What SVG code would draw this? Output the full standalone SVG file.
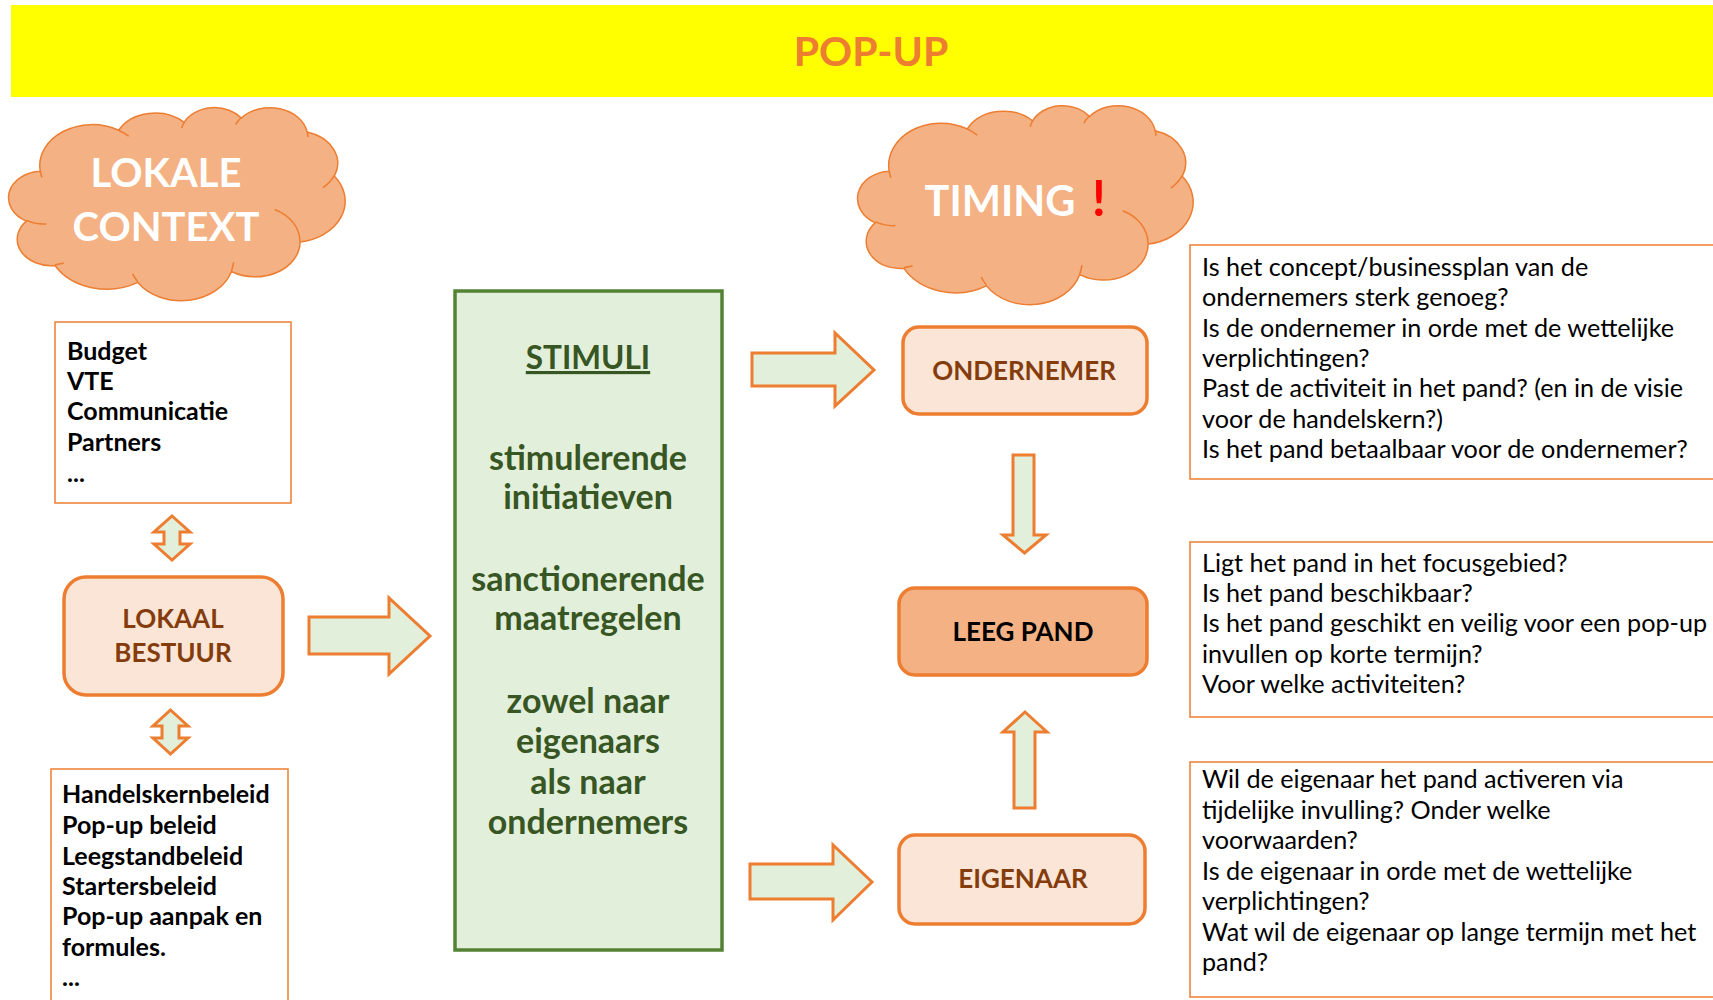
<svg xmlns="http://www.w3.org/2000/svg" width="1713" height="1000" viewBox="0 0 1713 1000">
<defs>
<style>
.cloud{fill:#F4B183;stroke:#ED7D31;stroke-width:1.5}
.cin{fill:none;stroke:#ED7D31;stroke-width:1.5}
.blk{fill:#E2EFDA;stroke:#ED7D31;stroke-width:3}
.rbox{fill:#FBE5D6;stroke:#ED7D31;stroke-width:3.5}
.tbox{fill:#FFFFFF;stroke:#ED7D31;stroke-width:1.5}
.lbl{font-family:Lato,"Open Sans","Liberation Sans",sans-serif;font-weight:700;font-size:26px;fill:#843C0C;text-anchor:middle}
.cl{font-family:Lato,"Open Sans","Liberation Sans",sans-serif;font-weight:700;font-size:40px;fill:#FFFFFF;text-anchor:middle}
.lst{font-family:Lato,"Open Sans","Liberation Sans",sans-serif;font-weight:700;font-size:25px;fill:#000000}
.q{font-family:Lato,"Open Sans","Liberation Sans",sans-serif;font-size:25.2px;fill:#000000}
.st{font-family:Lato,"Open Sans","Liberation Sans",sans-serif;font-weight:700;font-size:34px;fill:#375623;text-anchor:middle}
</style>
<path id="cloudOut" vector-effect="non-scaling-stroke" d="M3900,14370 A6753,9190 0 0 1 14005,5202 A5333,7267 0 0 1 22456,3433 A4365,5945 0 0 1 29833,2480 A4857,6595 0 0 1 38317,5576 A5333,7273 0 0 1 41818,15460 A6775,9220 0 0 1 37404,30204 A5785,7867 0 0 1 28556,36815 A6752,9215 0 0 1 16480,39266 A7720,10543 0 0 1 5804,35472 A4360,5918 0 0 1 2112,25551 A4345,5945 0 0 1 3900,14370 Z"/>
<path id="cloudIn" vector-effect="non-scaling-stroke" d="M4693,26177 A4345,5945 0 0 1 2160,25380 M6928,34899 A4360,5918 0 0 1 5820,35281 M16478,39090 A6752,9215 0 0 1 15810,37350 M28827,34751 A6752,9215 0 0 1 28561,36660 M34129,22954 A5785,7867 0 0 1 37380,30090 M41798,15354 A5333,7273 0 0 1 40350,18030 M38324,5426 A4857,6595 0 0 1 38401,6690 M29078,3952 A4857,6595 0 0 1 29820,2340 M22141,4720 A4365,5945 0 0 1 22500,3331 M14000,5192 A6753,9190 0 0 1 15300,6540 M4127,15789 A6753,9190 0 0 1 3900,14370"/>
</defs>
<rect x="0" y="0" width="1713" height="1000" fill="#FFFFFF"/>

<g id="title">
<rect x="11" y="5" width="1702" height="92" fill="#FFFF00"/>
<text x="871" y="66" font-family="Lato,'Open Sans','Liberation Sans',sans-serif" font-weight="700" font-size="41" fill="#ED7D31" text-anchor="middle">POP-UP</text>
</g>

<g id="cloud-lokale-context">
<use href="#cloudOut" class="cloud" transform="translate(10,107) scale(0.007755,0.004468)"/>
<use href="#cloudIn" class="cin" transform="translate(10,107) scale(0.007755,0.004468)"/>
<text class="cl" x="166" y="187">LOKALE</text>
<text class="cl" x="166" y="241">CONTEXT</text>
</g>

<g id="cloud-timing">
<use href="#cloudOut" class="cloud" transform="translate(859,105) scale(0.007731,0.004606)"/>
<use href="#cloudIn" class="cin" transform="translate(859,105) scale(0.007731,0.004606)"/>
<text class="cl" x="1000" y="216" style="font-size:41.5px">TIMING</text>
<text x="1099" y="216" font-family="Lato,'Open Sans','Liberation Sans',sans-serif" font-weight="700" font-size="49" fill="#FF0000" text-anchor="middle">!</text>
</g>

<g id="box-middelen">
<rect class="tbox" x="55" y="322" width="236" height="181"/>
<text class="lst" x="67" y="360">Budget</text>
<text class="lst" x="67" y="390">VTE</text>
<text class="lst" x="67" y="420">Communicatie</text>
<text class="lst" x="67" y="451">Partners</text>
<text class="lst" x="67" y="482">...</text>
</g>

<g id="lokaal-bestuur">
<rect class="rbox" x="64" y="577" width="219" height="118" rx="22"/>
<text class="lbl" x="173" y="628">LOKAAL</text>
<text class="lbl" x="173" y="662">BESTUUR</text>
</g>

<g id="box-beleid">
<rect class="tbox" x="51" y="769" width="237" height="260"/>
<text class="lst" x="62" y="803">Handelskernbeleid</text>
<text class="lst" x="62" y="834">Pop-up beleid</text>
<text class="lst" x="62" y="865">Leegstandbeleid</text>
<text class="lst" x="62" y="895">Startersbeleid</text>
<text class="lst" x="62" y="925">Pop-up aanpak en</text>
<text class="lst" x="62" y="956">formules.</text>
<text class="lst" x="62" y="986">...</text>
</g>

<g id="stimuli">
<rect x="455" y="291" width="267" height="659" fill="#E2EFDA" stroke="#548235" stroke-width="3.5"/>
<text class="st" x="588" y="369" text-decoration="underline" style="font-size:31.5px">STIMULI</text>
<text class="st" x="588" y="470">stimulerende</text>
<text class="st" x="588" y="509">initiatieven</text>
<text class="st" x="588" y="591">sanctionerende</text>
<text class="st" x="588" y="630">maatregelen</text>
<text class="st" x="588" y="713">zowel naar</text>
<text class="st" x="588" y="753">eigenaars</text>
<text class="st" x="588" y="794">als naar</text>
<text class="st" x="588" y="834">ondernemers</text>
</g>

<g id="ondernemer">
<rect class="rbox" x="903" y="327" width="244" height="87" rx="16"/>
<text class="lbl" x="1024" y="380">ONDERNEMER</text>
</g>

<g id="leeg-pand">
<rect x="899" y="588" width="248" height="87" rx="16" fill="#F4B183" stroke="#ED7D31" stroke-width="3.5"/>
<text class="lbl" x="1023" y="641" style="fill:#000000">LEEG PAND</text>
</g>

<g id="eigenaar">
<rect class="rbox" x="899" y="835" width="246" height="89" rx="16"/>
<text class="lbl" x="1023" y="888">EIGENAAR</text>
</g>

<g id="vragen-ondernemer">
<rect class="tbox" x="1190" y="245" width="540" height="234"/>
<text class="q" x="1202" y="276">Is het concept/businessplan van de</text>
<text class="q" x="1202" y="306">ondernemers sterk genoeg?</text>
<text class="q" x="1202" y="337">Is de ondernemer in orde met de wettelijke</text>
<text class="q" x="1202" y="367">verplichtingen?</text>
<text class="q" x="1202" y="397">Past de activiteit in het pand? (en in de visie</text>
<text class="q" x="1202" y="428">voor de handelskern?)</text>
<text class="q" x="1202" y="458">Is het pand betaalbaar voor de ondernemer?</text>
</g>

<g id="vragen-pand">
<rect class="tbox" x="1190" y="542" width="540" height="175"/>
<text class="q" x="1202" y="572">Ligt het pand in het focusgebied?</text>
<text class="q" x="1202" y="602">Is het pand beschikbaar?</text>
<text class="q" x="1202" y="632">Is het pand geschikt en veilig voor een pop-up</text>
<text class="q" x="1202" y="663">invullen op korte termijn?</text>
<text class="q" x="1202" y="693">Voor welke activiteiten?</text>
</g>

<g id="vragen-eigenaar">
<rect class="tbox" x="1190" y="762" width="540" height="235"/>
<text class="q" x="1202" y="788">Wil de eigenaar het pand activeren via</text>
<text class="q" x="1202" y="818.5">tijdelijke invulling? Onder welke</text>
<text class="q" x="1202" y="849">voorwaarden?</text>
<text class="q" x="1202" y="879.5">Is de eigenaar in orde met de wettelijke</text>
<text class="q" x="1202" y="910">verplichtingen?</text>
<text class="q" x="1202" y="940.5">Wat wil de eigenaar op lange termijn met het</text>
<text class="q" x="1202" y="971">pand?</text>
</g>

<g id="connectors">
<polygon class="blk" points="172,516 190,532 180,532 180,544 190,544 172,560 154,544 164,544 164,532 154,532"/>
<polygon class="blk" points="170.5,710 188,726 179,726 179,738 188,738 170.5,754 153,738 162,738 162,726 153,726"/>
<polygon class="blk" points="309,617 389,617 389,598 430,636 389,674 389,654 309,654"/>
<polygon class="blk" points="752,353 835,353 835,333 874,370 835,406 835,386 752,386"/>
<polygon class="blk" points="750,864 833,864 833,845 872,882 833,920 833,899 750,899"/>
<polygon class="blk" points="1013,455 1034,455 1034,535 1046,535 1024.5,553 1003,535 1013,535"/>
<polygon class="blk" points="1025,712 1047,732 1035,732 1035,808 1014,808 1014,732 1003,732"/>
</g>
</svg>
